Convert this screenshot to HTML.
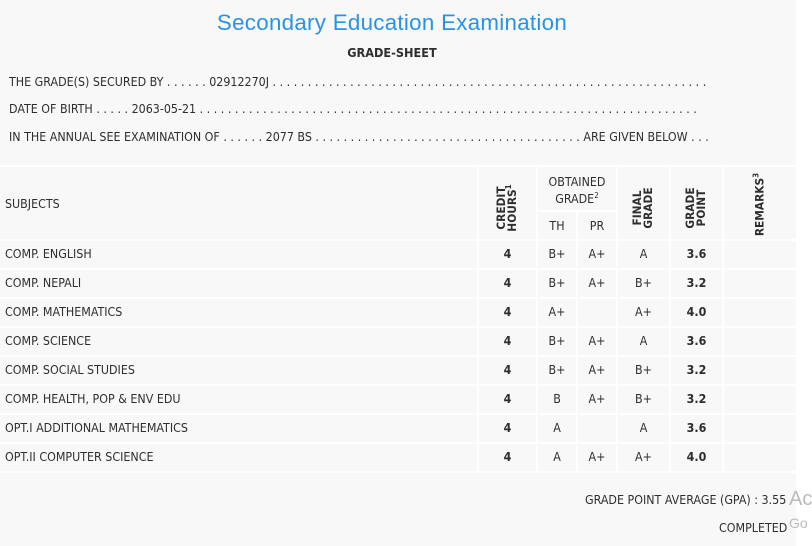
<!DOCTYPE html>
<html><head><style>
body{margin:0;width:812px;height:546px;background:#f8f8f8;font-family:"DejaVu Sans Condensed","Liberation Sans",sans-serif;color:#2e2e2e;position:relative;overflow:hidden}
.a{position:absolute;white-space:nowrap;font-size:12.35px}
.t{position:absolute;left:0;width:784px;text-align:center;top:10px;font-family:"Liberation Sans",sans-serif;font-size:22.3px;color:#2a92e6;letter-spacing:0.3px}
.h{position:absolute;background:#fff;height:2px}
.v{position:absolute;background:#fff;width:2px}
.c{position:absolute;text-align:center;font-size:12.35px;font-weight:bold}
.r{position:absolute;font-weight:bold;font-size:11.8px;transform:rotate(-90deg);transform-origin:center;text-align:center;line-height:11px}
.right{position:absolute;left:796px;top:0;width:16px;height:546px;background:#fff}
</style></head><body>
<div class="right"></div>
<div class="t">Secondary Education Examination</div>
<div class="a" style="left:0;width:784px;text-align:center;top:45px;font-weight:bold;font-size:12.6px">GRADE-SHEET</div>
<div class="a" style="left:9px;top:75px">THE GRADE(S) SECURED BY . . . . . . 02912270J . . . . . . . . . . . . . . . . . . . . . . . . . . . . . . . . . . . . . . . . . . . . . . . . . . . . . . . . . . . . . .</div>
<div class="a" style="left:9px;top:102px">DATE OF BIRTH . . . . . 2063-05-21 . . . . . . . . . . . . . . . . . . . . . . . . . . . . . . . . . . . . . . . . . . . . . . . . . . . . . . . . . . . . . . . . . . . . . . .</div>
<div class="a" style="left:9px;top:130px">IN THE ANNUAL SEE EXAMINATION OF . . . . . . 2077 BS . . . . . . . . . . . . . . . . . . . . . . . . . . . . . . . . . . . . . . ARE GIVEN BELOW . . .</div>

<div class="h" style="left:0;width:796px;top:165px"></div>
<div class="h" style="left:537px;width:80px;top:210px"></div>
<div class="h" style="left:0;width:796px;top:239px"></div>
<div class="h" style="left:0;width:796px;top:268px"></div>
<div class="h" style="left:0;width:796px;top:297px"></div>
<div class="h" style="left:0;width:796px;top:326px"></div>
<div class="h" style="left:0;width:796px;top:355px"></div>
<div class="h" style="left:0;width:796px;top:384px"></div>
<div class="h" style="left:0;width:796px;top:413px"></div>
<div class="h" style="left:0;width:796px;top:442px"></div>
<div class="h" style="left:0;width:796px;top:471px"></div>
<div class="v" style="left:477px;top:165px;height:308px"></div>
<div class="v" style="left:536px;top:165px;height:308px"></div>
<div class="v" style="left:576px;top:210px;height:263px"></div>
<div class="v" style="left:616px;top:165px;height:308px"></div>
<div class="v" style="left:669px;top:165px;height:308px"></div>
<div class="v" style="left:722px;top:165px;height:308px"></div>

<div class="a" style="left:5px;top:197px">SUBJECTS</div>
<div class="r" style="left:472px;top:197px;width:70px">CREDIT<br>HOURS<sup style="font-size:8px;line-height:0">1</sup></div>
<div class="c" style="left:537px;width:80px;top:174px;font-weight:normal;line-height:17px">OBTAINED<br>GRADE<sup style="font-size:8px;line-height:0">2</sup></div>
<div class="c" style="left:537px;width:40px;top:219px;font-weight:normal">TH</div>
<div class="c" style="left:577px;width:40px;top:219px;font-weight:normal">PR</div>
<div class="r" style="left:608px;top:197px;width:70px">FINAL<br>GRADE</div>
<div class="r" style="left:661px;top:197px;width:70px">GRADE<br>POINT</div>
<div class="r" style="left:720px;top:199px;width:80px">REMARKS<sup style="font-size:8px;line-height:0">3</sup></div>

<div id="rows"></div>
<script>
var d=[["COMP. ENGLISH","B+","A+","A","3.6"],["COMP. NEPALI","B+","A+","B+","3.2"],["COMP. MATHEMATICS","A+","","A+","4.0"],["COMP. SCIENCE","B+","A+","A","3.6"],["COMP. SOCIAL STUDIES","B+","A+","B+","3.2"],["COMP. HEALTH, POP &amp; ENV EDU","B","A+","B+","3.2"],["OPT.I ADDITIONAL MATHEMATICS","A","","A","3.6"],["OPT.II COMPUTER SCIENCE","A","A+","A+","4.0"]];
var h="";d.forEach(function(r,i){var y=247+i*29;
h+='<div class="a" style="left:5px;top:'+y+'px">'+r[0]+'</div>';
h+='<div class="c" style="left:478px;width:59px;top:'+y+'px">4</div>';
h+='<div class="c" style="left:537px;width:40px;top:'+y+'px;font-weight:normal">'+r[1]+'</div>';
h+='<div class="c" style="left:577px;width:40px;top:'+y+'px;font-weight:normal">'+r[2]+'</div>';
h+='<div class="c" style="left:617px;width:53px;top:'+y+'px;font-weight:normal">'+r[3]+'</div>';
h+='<div class="c" style="left:670px;width:53px;top:'+y+'px">'+r[4]+'</div>';});
document.getElementById("rows").innerHTML=h;
</script>
<div class="a" style="left:585px;top:493px">GRADE POINT AVERAGE (GPA) : 3.55</div>
<div class="a" style="left:719px;top:521px">COMPLETED</div>
<div class="a" style="left:789px;top:488px;font-size:20px;color:#bbb;font-family:'Liberation Sans',sans-serif">Ac</div>
<div class="a" style="left:789px;top:515px;font-size:14px;color:#bbb;font-family:'Liberation Sans',sans-serif">Go</div>
</body></html>
